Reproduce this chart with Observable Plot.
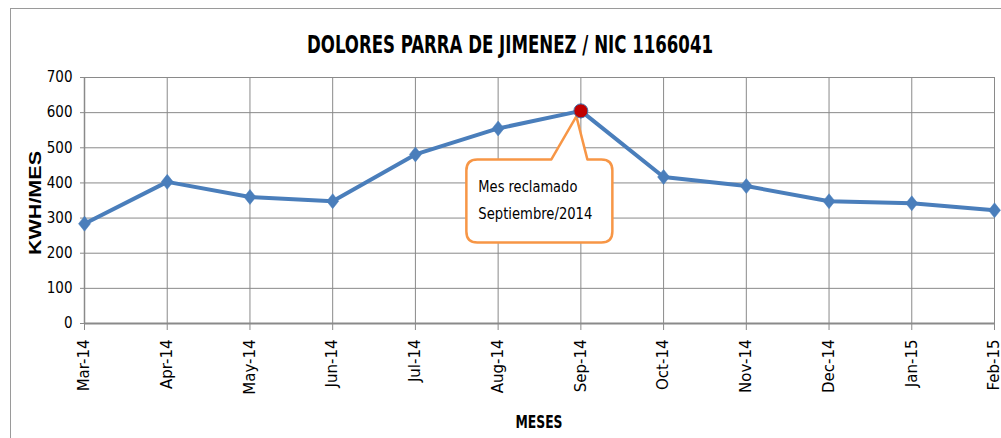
<!DOCTYPE html>
<html>
<head>
<meta charset="utf-8">
<script src="https://cdn.jsdelivr.net/npm/d3@7"></script>
<script src="https://cdn.jsdelivr.net/npm/@observablehq/plot@0.6"></script>
<style>
  html, body { margin: 0; padding: 0; background: #fff; }
  #wrap { position: relative; width: 1001px; height: 438px; overflow: hidden; }
  #frame { position: absolute; left: 10px; top: 8px; width: 1100px; height: 500px;
           border-left: 1px solid #9a9a9a; border-top: 1px solid #9a9a9a; }
  #wrap svg { position: absolute; left: 0; top: 0; }
</style>
</head>
<body>
<div id="wrap"><div id="frame"></div></div>
<script>
const months = ["Mar-14","Apr-14","May-14","Jun-14","Jul-14","Aug-14","Sep-14","Oct-14","Nov-14","Dec-14","Jan-15","Feb-15"];
const kwh = [284, 403, 360, 348, 481, 555, 605, 417, 391, 348, 342, 322];
const yTicks = [0, 100, 200, 300, 400, 500, 600, 700];
const titleText = "DOLORES PARRA DE JIMENEZ / NIC 1166041";
const yTitle = "KWH/MES";
const xTitle = "MESES";
const calloutMonth = "Sep-14";
const calloutLines = ["Mes reclamado", "Septiembre/2014"];

const data = months.map((m, i) => ({month: m, kwh: kwh[i]}));
const highlighted = data.filter(d => d.month === calloutMonth);

const NARROW = '"Liberation Sans Narrow", "DejaVu Sans Condensed", "Arial Narrow", sans-serif';
const BLUE = "#4a7ebb";
const GRID = "#8a8a8a";
const ORANGE = "#f79646";

const diamond = {
  draw(context) {
    const h = 7.5, w = 6;
    context.moveTo(0, -h); context.lineTo(w, 0); context.lineTo(0, h); context.lineTo(-w, 0); context.closePath();
  }
};

function callout(index, scales) {
  const d = highlighted[0];
  const px = scales.x(d.month), py = scales.y(d.kwh);
  const L = px - 114, R = px + 32, T = py + 49, B = py + 132, r = 11;
  const a = px - 29, b = px + 7, tx = px - 4, ty = py + 6;
  const g = d3.create("svg:g").attr("text-anchor", "start");
  g.append("path")
    .attr("d", `M${L + r},${T}H${a}L${tx},${ty}L${b},${T}H${R - r}Q${R},${T} ${R},${T + r}V${B - r}Q${R},${B} ${R - r},${B}H${L + r}Q${L},${B} ${L},${B - r}V${T + r}Q${L},${T} ${L + r},${T}Z`)
    .attr("fill", "#fff").attr("stroke", ORANGE).attr("stroke-width", 2.5).attr("stroke-linejoin", "round");
  const lens = [99, 114];
  calloutLines.forEach((s, i) => {
    g.append("text").text(s)
      .attr("x", px - 102).attr("y", py + 82 + i * 27)
      .attr("text-anchor", "start")
      .attr("font-family", NARROW).attr("font-size", 16).attr("fill", "#000")
      .attr("textLength", lens[i]).attr("lengthAdjust", "spacingAndGlyphs");
  });
  return g.node();
}

const chart = Plot.plot({
  width: 1001,
  height: 438,
  marginLeft: 84,
  marginRight: 7,
  marginTop: 77,
  marginBottom: 115,
  style: {background: "transparent", color: "#000"},
  x: {type: "point", domain: months, padding: 0, round: false},
  y: {domain: [0, 700]},
  marks: [
    Plot.gridX(months, {stroke: GRID, strokeOpacity: 1, strokeWidth: 1}),
    Plot.gridY(yTicks.slice(1), {stroke: GRID, strokeOpacity: 1, strokeWidth: 1}),
    Plot.ruleY([0], {stroke: GRID, strokeWidth: 2}),
    Plot.ruleX([months[0]], {stroke: GRID, strokeWidth: 1.5}),
    Plot.axisY(yTicks, {tickSize: 4, tickPadding: 8, stroke: GRID, fontSize: 15, fontFamily: NARROW, label: null}),
    Plot.axisX(months, {tickSize: 7, tickPadding: 9, tickRotate: -90, stroke: GRID, fontSize: 15, fontFamily: "DejaVu Sans, Verdana, sans-serif", label: null}),
    Plot.line(data, {x: "month", y: "kwh", stroke: BLUE, strokeWidth: 4, strokeLinejoin: "round"}),
    Plot.dot(data, {x: "month", y: "kwh", symbol: () => diamond, fill: BLUE, stroke: BLUE, strokeWidth: 0.5}),
    callout,
    Plot.dot(highlighted, {x: "month", y: "kwh", r: 7, fill: "#c00000", stroke: "#4a6fa5", strokeWidth: 1})
  ]
});

const svg = d3.select(chart);
svg.append("text").text(titleText)
  .attr("x", 510).attr("y", 53).attr("text-anchor", "middle")
  .attr("font-family", NARROW).attr("font-weight", "bold").attr("font-size", 24).attr("fill", "#000")
  .attr("textLength", 406).attr("lengthAdjust", "spacingAndGlyphs");
svg.append("text").text(yTitle)
  .attr("transform", "translate(41,203) rotate(-90)").attr("text-anchor", "middle")
  .attr("font-family", "Liberation Sans, Arial, sans-serif").attr("font-weight", "bold").attr("font-size", 16).attr("fill", "#000")
  .attr("textLength", 104).attr("lengthAdjust", "spacingAndGlyphs");
svg.append("text").text(xTitle)
  .attr("x", 539).attr("y", 428).attr("text-anchor", "middle")
  .attr("font-family", NARROW).attr("font-weight", "bold").attr("font-size", 18).attr("fill", "#000")
  .attr("textLength", 47).attr("lengthAdjust", "spacingAndGlyphs");

document.getElementById("wrap").appendChild(chart);
</script>
</body>
</html>
